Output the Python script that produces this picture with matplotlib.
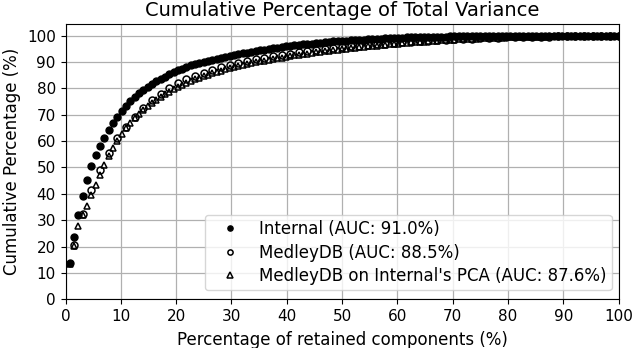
import numpy as np
import matplotlib
matplotlib.use("Agg")
import matplotlib.pyplot as plt

# ---- data ----
internal_y = [
    13.8, 23.5, 32.0, 39.2, 45.4, 50.6, 54.6, 58.2, 61.3, 64.2,
    66.9, 69.3, 71.5, 73.4, 75.1, 76.7, 78.1, 79.4, 80.6, 81.7,
    82.7, 83.6, 84.5, 85.3, 86.1, 86.8, 87.5, 88.1, 88.7, 89.2,
    89.7, 90.1, 90.5, 90.9, 91.3, 91.7, 92.0, 92.4, 92.7, 93.0,
    93.3, 93.6, 93.9, 94.2, 94.5, 94.7, 95.0, 95.2, 95.4, 95.7,
    95.9, 96.1, 96.3, 96.5, 96.7, 96.8, 97.0, 97.2, 97.3, 97.5,
    97.6, 97.8, 97.9, 98.0, 98.1, 98.2, 98.3, 98.4, 98.5, 98.6,
    98.7, 98.8, 98.9, 99.0, 99.0, 99.1, 99.2, 99.2, 99.3, 99.3,
    99.4, 99.4, 99.5, 99.5, 99.5, 99.6, 99.6, 99.6, 99.7, 99.7,
    99.7, 99.7, 99.8, 99.8, 99.8, 99.8, 99.8, 99.85, 99.85, 99.85,
    99.9, 99.9, 99.9, 99.9, 99.9, 99.92, 99.93, 99.94, 99.94, 99.95,
    99.95, 99.96, 99.96, 99.97, 99.97, 99.97, 99.98, 99.98, 99.98, 99.99,
    99.99, 99.99, 99.99, 100.0, 100.0, 100.0, 100.0, 100.0,
]

medley_y = [
    20.5, 32.5, 41.5, 49.0, 55.5, 61.0, 65.5, 69.3, 72.6, 75.5,
    78.0, 80.2, 82.0, 83.5, 84.8, 86.0, 87.1, 88.0, 88.9, 89.7,
    90.4, 91.0, 91.6, 92.2, 92.7, 93.2, 93.7, 94.1, 94.5, 94.9,
    95.3, 95.6, 95.9, 96.2, 96.5, 96.8, 97.0, 97.3, 97.5, 97.7,
    97.9, 98.1, 98.3, 98.4, 98.6, 98.7, 98.85, 99.0, 99.1, 99.2,
    99.3, 99.4, 99.45, 99.5, 99.6, 99.65, 99.7, 99.75, 99.8, 99.85,
    99.9, 99.95, 99.98, 100.0,
]

medley_int_pca_y = [
    13.5, 20.3, 27.8, 31.8, 35.3, 39.4, 43.5, 47.2, 51.0, 54.5,
    57.5, 60.2, 62.7, 64.9, 66.9, 68.7, 70.3, 71.8, 73.2, 74.5,
    75.7, 76.8, 77.8, 78.8, 79.7, 80.5, 81.3, 82.0, 82.7, 83.4,
    84.0, 84.6, 85.2, 85.7, 86.2, 86.7, 87.2, 87.6, 88.0, 88.4,
    88.8, 89.2, 89.5, 89.9, 90.2, 90.5, 90.8, 91.1, 91.4, 91.7,
    92.0, 92.3, 92.5, 92.8, 93.0, 93.2, 93.5, 93.7, 93.9, 94.1,
    94.3, 94.5, 94.7, 94.9, 95.1, 95.3, 95.45, 95.6, 95.8, 95.95,
    96.1, 96.25, 96.4, 96.55, 96.7, 96.85, 97.0, 97.1, 97.25, 97.4,
    97.5, 97.65, 97.75, 97.9, 98.0, 98.1, 98.2, 98.3, 98.4, 98.5,
    98.6, 98.7, 98.75, 98.85, 98.9, 99.0, 99.05, 99.1, 99.15, 99.2,
    99.25, 99.3, 99.35, 99.4, 99.45, 99.5, 99.53, 99.56, 99.6, 99.63,
    99.66, 99.69, 99.72, 99.74, 99.77, 99.8, 99.82, 99.84, 99.86, 99.88,
    99.9, 99.92, 99.94, 99.95, 99.97, 99.98, 99.99, 100.0,
]

labels = [
    "Internal (AUC: 91.0%)",
    "MedleyDB (AUC: 88.5%)",
    "MedleyDB on Internal's PCA (AUC: 87.6%)",
]
x_ticks = list(range(0, 101, 10))
y_ticks = list(range(0, 101, 10))

# x positions: percentage of retained components for each component index
def pct_positions(values):
    n = len(values)
    return np.arange(1, n + 1) / n * 100.0

plt.rcParams['font.family'] = ['DejaVu Sans']

W, H = 632, 348
fig = plt.figure(figsize=(W / 100, H / 100), dpi=100)
ax_l, ax_r, ax_t, ax_b = 65.5, 618.5, 24.3, 299.3
ax = fig.add_axes([ax_l / W, 1 - ax_b / H, (ax_r - ax_l) / W, (ax_b - ax_t) / H])

ms = 5.0
ax.plot(pct_positions(internal_y), internal_y, linestyle='none', marker='o',
        markersize=ms, color='black', label=labels[0], zorder=3)
ax.plot(pct_positions(medley_y), medley_y, linestyle='none', marker='o',
        markersize=ms, markerfacecolor='none', markeredgecolor='black',
        markeredgewidth=1.1, label=labels[1], zorder=3)
ax.plot(pct_positions(medley_int_pca_y), medley_int_pca_y, linestyle='none', marker='^',
        markersize=ms, markerfacecolor='none', markeredgecolor='black',
        markeredgewidth=1.1, label=labels[2], zorder=3)

ax.set_xlim(0, 100)
ax.set_ylim(0, 104.3)
ax.set_xticks(x_ticks)
ax.set_yticks(y_ticks)
ax.tick_params(labelsize=11)
ax.grid(True, color='#b0b0b0', linewidth=0.9)
ax.set_axisbelow(True)

ax.set_title("Cumulative Percentage of Total Variance", fontsize=14, pad=6)
ax.set_xlabel("Percentage of retained components (%)", fontsize=12, labelpad=5)
ax.set_ylabel("Cumulative Percentage (%)", fontsize=12, labelpad=4)

leg_left = (205 - ax_l) / (ax_r - ax_l)
leg_bottom = (ax_b - 290) / (ax_b - ax_t)
leg = ax.legend(loc='lower left', bbox_to_anchor=(leg_left, leg_bottom), borderaxespad=0.0,
                fontsize=12, markerscale=0.75, borderpad=0.3, handletextpad=0.55,
                handlelength=2.4, labelspacing=0.33)

fig.savefig("out.png", dpi=100)
